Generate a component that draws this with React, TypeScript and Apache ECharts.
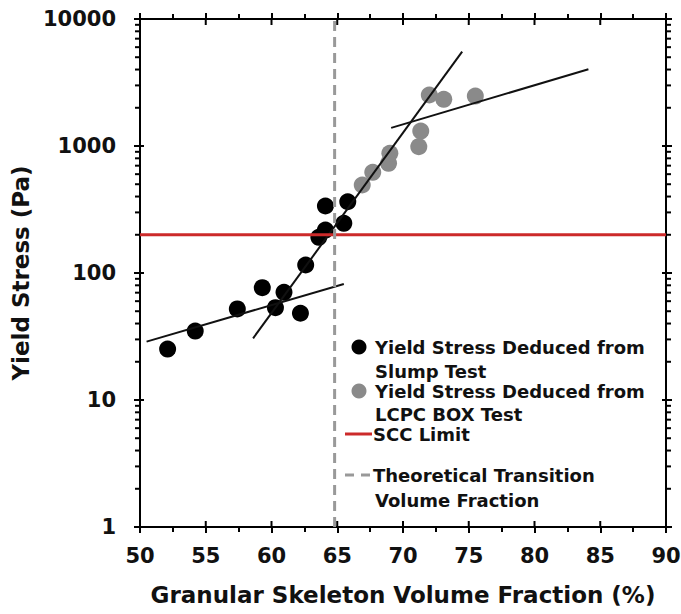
import React, { useEffect, useRef } from "react";
import * as echarts from "echarts";

// ---- data ----
const slumpX = [52.1, 54.2, 57.4, 59.3, 60.3, 60.95, 62.2, 62.6, 63.6, 64.1, 64.1, 65.5, 65.8];
const slumpY = [25.2, 34.9, 52.1, 76.6, 53.3, 70.5, 48.2, 115.6, 191, 218, 337, 246, 364];
const lcpcX = [66.9, 67.7, 68.9, 69.0, 71.2, 71.35, 72.0, 73.1, 75.5];
const lcpcY = [493, 621, 731, 877, 987, 1312, 2521, 2333, 2475];

const fitLowX = [50.5, 65.5];
const fitLowY = [28.8, 82];
const fitSteepX = [58.6, 74.5];
const fitSteepY = [30.6, 5530];
const fitHighX = [69.1, 84.1];
const fitHighY = [1390, 4020];

const sccLimit = 200;
const transitionX = 64.8;

const xTicks = [50, 55, 60, 65, 70, 75, 80, 85, 90];
const yDecades = [1, 10, 100, 1000, 10000];
const minorMultipliers = [2, 3, 4, 5, 6, 7, 8, 9];

const X_MIN = 50, X_MAX = 90, Y_MIN = 1, Y_MAX = 10000;

const FONT = '"DejaVu Sans", "Liberation Sans", Arial, sans-serif';

const zip = (xs: number[], ys: number[]) => xs.map((x, i) => [x, ys[i]]);

export default function App() {
  const ref = useRef<HTMLDivElement>(null);

  useEffect(() => {
    document.body.style.margin = "0";
    if (!ref.current) return;
    const chart = echarts.init(ref.current, null, { renderer: "svg" });

    const yMinor: number[] = [];
    yDecades.slice(0, -1).forEach((d) => minorMultipliers.forEach((m) => yMinor.push(d * m)));

    const lineStyle = { color: "#000", width: 2 };
    const tickStroke = { stroke: "#000", lineWidth: 2 };

    const baseX = {
      type: "value" as const,
      min: X_MIN,
      max: X_MAX,
      interval: 5,
      axisLine: { show: true, onZero: false, lineStyle },
      axisTick: { show: true, inside: false, length: 6, lineStyle },
      minorTick: { show: true, splitNumber: 2, length: 5, lineStyle },
      splitLine: { show: false },
      minorSplitLine: { show: false },
    };
    const baseY = {
      type: "log" as const,
      logBase: 10,
      min: Y_MIN,
      max: Y_MAX,
      axisLine: { show: true, onZero: false, lineStyle },
      axisTick: { show: true, inside: false, length: 6, lineStyle },
      splitLine: { show: false },
    };

    const legendText = (text: string, x: number, y: number) => ({
      type: "text",
      x,
      y,
      style: {
        text,
        fill: "#111",
        font: `bold 18px ${FONT}`,
        lineHeight: 18,
        textVerticalAlign: "middle",
        verticalAlign: "middle",
      },
    });

    const option: any = {
      animation: false,
      backgroundColor: "#fff",
      grid: { left: 140, right: 15, top: 19, bottom: 87, containLabel: false, outerBoundsMode: "none" },
      xAxis: [
        {
          ...baseX,
          position: "bottom",
          name: "Granular Skeleton Volume Fraction (%)",
          nameLocation: "middle",
          nameGap: 56,
          nameTextStyle: { fontFamily: FONT, fontWeight: "bold", fontSize: 23, color: "#111" },
          axisLabel: { show: true, margin: 18, fontFamily: FONT, fontWeight: "bold", fontSize: 21, color: "#111" },
        },
        { ...baseX, position: "top", axisLabel: { show: false } },
      ],
      yAxis: [
        {
          ...baseY,
          position: "left",
          name: "Yield Stress (Pa)",
          nameLocation: "middle",
          nameGap: 90,
          nameTextStyle: { fontFamily: FONT, fontWeight: "bold", fontSize: 23, color: "#111" },
          axisLabel: {
            show: true,
            margin: 24,
            fontFamily: FONT,
            fontWeight: "bold",
            fontSize: 21,
            color: "#111",
            formatter: (v: number) => String(Math.round(v)),
          },
        },
        { ...baseY, position: "right", axisLabel: { show: false } },
      ],
      series: [
        {
          type: "scatter",
          name: "Yield Stress Deduced from Slump Test",
          data: zip(slumpX, slumpY),
          symbolSize: 17,
          itemStyle: { color: "#000", opacity: 1 },
          z: 2,
        },
        {
          type: "scatter",
          name: "Yield Stress Deduced from LCPC BOX Test",
          data: zip(lcpcX, lcpcY),
          symbolSize: 17,
          itemStyle: { color: "#8a8a8a", opacity: 1 },
          z: 2,
        },
        ...[zip(fitLowX, fitLowY), zip(fitSteepX, fitSteepY), zip(fitHighX, fitHighY)].map((d) => ({
          type: "line",
          data: d,
          showSymbol: false,
          symbol: "none",
          lineStyle: { color: "#111", width: 2 },
          z: 3,
        })),
        {
          type: "line",
          name: "SCC Limit",
          data: [[X_MIN, sccLimit], [X_MAX, sccLimit]],
          symbol: "none",
          lineStyle: { color: "#cc2a2a", width: 3 },
          z: 4,
        },
        {
          type: "line",
          name: "Theoretical Transition Volume Fraction",
          data: [[transitionX, Y_MIN], [transitionX, Y_MAX]],
          symbol: "none",
          lineStyle: { color: "#999", width: 3, type: [10, 6] },
          z: 4,
        },
        // inward parts of major x ticks (bottom and top)
        {
          type: "custom",
          silent: true,
          data: xTicks.map((v) => [v, Y_MIN]),
          renderItem: (params: any, api: any) => {
            const cs = params.coordSys;
            const p = api.coord([api.value(0), api.value(1)]);
            return {
              type: "group",
              children: [
                { type: "line", shape: { x1: p[0], y1: cs.y + cs.height, x2: p[0], y2: cs.y + cs.height - 6 }, style: tickStroke },
                { type: "line", shape: { x1: p[0], y1: cs.y, x2: p[0], y2: cs.y + 6 }, style: tickStroke },
              ],
            };
          },
          z: 5,
        },
        // inward parts of major y ticks (left and right)
        {
          type: "custom",
          silent: true,
          data: yDecades.map((v) => [X_MIN, v]),
          renderItem: (params: any, api: any) => {
            const cs = params.coordSys;
            const p = api.coord([api.value(0), api.value(1)]);
            return {
              type: "group",
              children: [
                { type: "line", shape: { x1: cs.x, y1: p[1], x2: cs.x + 4, y2: p[1] }, style: tickStroke },
                { type: "line", shape: { x1: cs.x + cs.width, y1: p[1], x2: cs.x + cs.width - 4, y2: p[1] }, style: tickStroke },
              ],
            };
          },
          z: 5,
        },
        // log minor ticks (outward, left and right)
        {
          type: "custom",
          silent: true,
          data: yMinor.map((v) => [X_MIN, v]),
          renderItem: (params: any, api: any) => {
            const cs = params.coordSys;
            const p = api.coord([api.value(0), api.value(1)]);
            return {
              type: "group",
              children: [
                { type: "line", shape: { x1: cs.x - 5, y1: p[1], x2: cs.x, y2: p[1] }, style: tickStroke },
                { type: "line", shape: { x1: cs.x + cs.width, y1: p[1], x2: cs.x + cs.width + 5, y2: p[1] }, style: tickStroke },
              ],
            };
          },
          z: 5,
        },
      ],
      graphic: [
        { type: "circle", shape: { cx: 359, cy: 347, r: 7.5 }, style: { fill: "#000" } },
        legendText("Yield Stress Deduced from", 375, 347),
        legendText("Slump Test", 375, 371),
        { type: "circle", shape: { cx: 359, cy: 391, r: 7.5 }, style: { fill: "#8a8a8a" } },
        legendText("Yield Stress Deduced from", 375, 391),
        legendText("LCPC BOX Test", 375, 414),
        { type: "line", shape: { x1: 345, y1: 434, x2: 372, y2: 434 }, style: { stroke: "#cc2a2a", lineWidth: 3 } },
        legendText("SCC Limit", 373, 434),
        { type: "line", shape: { x1: 345, y1: 475, x2: 354, y2: 475 }, style: { stroke: "#999", lineWidth: 3 } },
        { type: "line", shape: { x1: 361, y1: 475, x2: 370, y2: 475 }, style: { stroke: "#999", lineWidth: 3 } },
        legendText("Theoretical Transition", 373, 475),
        legendText("Volume Fraction", 375, 500),
      ],
    };

    chart.setOption(option);
    return () => chart.dispose();
  }, []);

  return <div ref={ref} style={{ width: 681, height: 614 }} />;
}
